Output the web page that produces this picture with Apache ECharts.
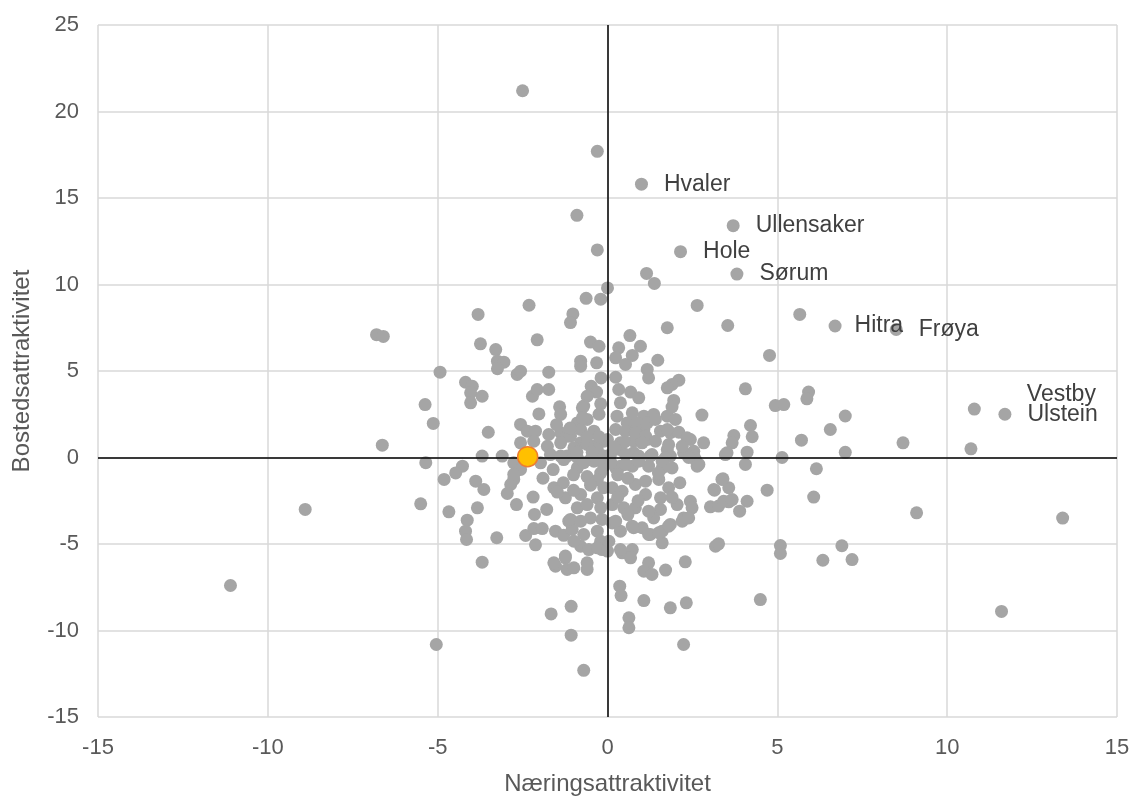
<!DOCTYPE html>
<html><head><meta charset="utf-8">
<script src="https://cdn.jsdelivr.net/npm/echarts@6/dist/echarts.min.js"></script>
<style>html,body{margin:0;padding:0;background:#fff}#c{width:1133px;height:798px}</style>
</head><body><div id="c"></div>
<script>
// Unlabelled municipalities: [Næringsattraktivitet, Bostedsattraktivitet]
const points = [
[-2.5,21.2],[-0.3,17.7],[-0.9,14.0],[-0.3,12.0],[1.15,10.64],[1.38,10.06],[0.0,9.8],[-0.63,9.2],[-0.2,9.15],
[-2.31,8.8],[-3.81,8.27],[-1.02,8.3],[-1.09,7.8],[2.64,8.79],[1.76,7.5],[3.54,7.63],[5.66,8.27],[-6.8,7.1],[-6.6,7.0],
[-2.07,6.8],[-3.74,6.57],[-0.5,6.67],[-0.25,6.43],[-3.29,6.24],[0.66,7.05],[0.97,6.43],[0.33,6.34],[0.73,5.9],[0.24,5.76],
[0.53,5.38],[1.48,5.62],[4.77,5.9],[-3.24,5.57],[-3.05,5.51],[-3.24,5.13],[-0.79,5.57],[-0.79,5.28],[-0.32,5.47],
[-4.93,4.93],[-2.66,4.8],[-2.56,4.99],[-1.73,4.93],[-0.19,4.6],[1.17,5.09],[1.21,4.6],[0.24,4.64],
[-4.18,4.35],[-3.98,4.12],[-4.03,3.74],[-3.69,3.54],[-2.21,3.54],[-2.07,3.93],[-1.73,3.93],[-0.48,4.12],[-0.32,3.78],
[-0.6,3.54],[-0.2,3.1],[-5.37,3.06],[-4.03,3.16],[-1.41,2.93],[-1.38,2.49],[-0.7,2.97],[-2.02,2.52],[-5.13,1.97],
[-0.89,2.0],[-0.79,1.62],[-0.6,2.2],[-0.4,1.52],[-2.56,1.91],[-2.36,1.52],[-2.12,1.52],[-3.51,1.46],[-1.73,1.33],
[-1.38,1.43],[-1.19,1.23],[-6.63,0.71],[-2.56,0.85],[-2.17,0.94],[-1.77,0.65],[-1.38,0.85],[-0.79,0.85],[-0.4,0.65],
[-0.11,0.94],[-3.69,0.08],[-3.1,0.08],[-1.68,0.17],[-1.19,0.08],[-0.74,2.87],[-0.74,2.29],[-1.09,1.23],[-0.3,0.46],
[-0.99,0.56],[-0.6,0.75],[-0.89,0.0],[-0.5,-0.12],[-0.11,0.08],[-2.76,-0.31],[-1.97,-0.31],[-1.29,-0.12],
[2.1,4.47],[1.9,4.22],[1.76,4.03],[4.06,3.97],[0.33,3.93],[0.68,3.78],[0.92,3.45],[0.38,3.16],[1.95,3.3],[1.9,2.92],
[1.76,2.39],[2.0,2.2],[2.78,2.45],[5.92,3.78],[5.87,3.39],[4.94,3.0],[5.19,3.06],[4.21,1.85],[4.26,1.2],[3.72,1.27],
[3.67,0.85],[3.52,0.27],[4.11,0.31],[5.71,1.0],[6.56,1.62],[5.14,0.0],[0.28,2.39],[0.73,2.58],[1.07,2.39],[1.36,2.49],
[0.24,1.62],[0.68,1.81],[1.07,1.62],[1.56,1.52],[1.85,1.43],[2.1,1.46],[2.44,1.04],[2.83,0.85],[0.0,1.04],[0.77,0.94],
[1.17,1.04],[0.38,0.46],[0.77,0.27],[1.76,0.46],[2.24,0.27],[2.54,0.36],[0.09,0.17],[1.26,0.08],[1.85,0.08],
[0.58,2.0],[0.87,2.0],[1.17,2.0],[1.41,2.2],[0.53,1.52],[0.82,1.43],[1.12,1.23],[1.76,1.62],[2.34,1.14],[0.38,0.85],
[1.02,0.85],[1.41,0.94],[1.8,0.75],[2.2,0.65],[0.53,0.17],[0.92,0.08],[1.31,0.17],[1.71,0.0],[2.59,-0.12],[3.47,0.17],
[0.38,-0.5],[0.73,-0.5],[1.21,-0.5],[1.61,-0.6],
[-5.35,-0.3],[-4.27,-0.5],[-4.47,-0.89],[-4.81,-1.27],[-3.88,-1.37],[-3.64,-1.85],[-2.76,-1.27],[-2.85,-1.56],
[-2.95,-2.08],[-2.56,-0.69],[-5.5,-2.68],[-4.67,-3.14],[-3.83,-2.91],[-2.68,-2.72],[-2.19,-2.29],[-2.15,-3.29],
[-1.79,-3.0],[-1.58,-1.75],[-1.3,-1.46],[-1.24,-2.33],[-1.48,-2.0],[-4.13,-3.62],[-4.18,-4.26],[-4.15,-4.74],
[-3.26,-4.64],[-2.41,-4.51],[-2.17,-4.11],[-1.92,-4.11],[-2.12,-5.05],[-1.53,-4.26],[-1.29,-4.5],[-1.04,-4.16],
[-1.14,-3.68],[-3.69,-6.05],[-1.53,-6.28],[-1.24,-5.8],[-1.19,-6.47],[-0.99,-6.38],[-0.6,-6.47],[-0.79,-5.13],
[-0.55,-5.32],[-0.16,-5.32],[-1.66,-9.04],[-1.07,-8.6],[-1.07,-10.27],[-5.04,-10.81],[-0.7,-12.3],[-1.38,0.08],
[-0.89,-0.6],[-0.4,-0.21],[-0.11,-0.5],[-2.76,-0.98],[-0.79,-2.14],[-0.89,-2.91],[-0.6,-2.72],[-0.3,-2.33],
[-0.11,-1.75],[-1.09,-3.58],[-0.79,-3.68],[-0.5,-3.49],[-0.16,-3.58],[-0.3,-4.26],[-0.7,-4.45],[-0.99,-4.84],
[-0.2,-4.84],[-0.3,-5.22],[0.0,-5.41],[-1.24,-5.7],[-1.58,-6.09],[-0.6,-6.09],
[-0.7,-0.3],[-0.2,-0.9],[-0.6,-1.1],[-1.0,-1.0],[-0.3,-1.3],[-1.0,-1.9],[-0.5,-1.6],[-0.2,-2.9],[-0.45,0.3],
[-0.9,0.3],[-1.6,-0.7],[-1.9,-1.2],[-0.1,-0.2],[-0.25,1.2],[-0.6,1.2],[-1.5,1.9],[-1.1,1.7],[-0.25,2.5],
[6.15,-0.65],[6.07,-2.29],[4.7,-1.89],[3.4,-1.23],[3.57,-1.75],[3.15,-1.89],[3.03,-2.85],[3.27,-2.81],[3.57,-2.56],
[3.89,-3.1],[4.11,-2.53],[4.06,-0.4],[2.54,0.08],[2.64,-0.5],[2.13,-1.46],[2.05,-2.72],[2.44,-2.53],[2.24,-3.49],
[2.49,-2.91],[1.56,-3.0],[1.36,-3.49],[1.85,-3.87],[1.61,-4.26],[1.26,-4.45],[0.77,-4.06],[1.02,-4.06],[0.38,-4.26],
[0.14,-3.78],[1.61,-4.93],[3.18,-5.13],[3.27,-4.99],[5.09,-5.09],[5.09,-5.55],[6.34,-5.94],[2.29,-6.03],[0.43,-5.51],
[0.73,-5.32],[0.68,-5.8],[1.21,-6.09],[1.07,-6.57],[1.31,-6.76],[1.71,-6.51],[0.36,-7.44],[0.4,-7.98],[1.07,-8.27],
[1.85,-8.69],[2.32,-8.4],[4.5,-8.21],[0.63,-9.27],[0.63,-9.84],[2.24,-10.81],[0.24,-0.6],[0.53,-0.4],[0.92,-0.21],
[1.61,-0.21],[1.9,-0.6],[2.39,0.0],[2.69,-0.4],[0.14,-1.75],[0.43,-1.95],[0.82,-1.56],[1.12,-1.37],[1.51,-1.27],
[1.8,-1.75],[1.12,-2.14],[1.56,-2.33],[0.14,-2.72],[0.48,-2.91],[0.82,-2.91],[1.21,-3.1],[0.24,-3.68],[0.73,-3.97],
[1.8,-3.97],[2.2,-3.68],[2.39,-3.49],[1.21,-4.45],[1.51,-4.35],[0.04,-4.84],[0.38,-5.32],[3.13,-1.85],[3.37,-1.27],
[3.42,-2.53],[3.67,-2.43],[0.3,-1.0],[0.6,-1.2],[0.1,-0.3],[0.5,0.9],[0.2,0.6],[1.5,-0.9],[0.9,-2.5],[0.3,-2.3],
[1.9,-2.3],[0.6,-3.3],
[7.0,2.4],[7.0,0.3],[8.7,0.85],[10.7,0.5],[9.1,-3.2],[13.4,-3.5],[11.6,-8.9],[6.9,-5.1],[7.2,-5.9],
[-11.1,-7.4],[-8.9,-3.0]
];
// Labelled municipalities
const labelNames = ["Hvaler","Ullensaker","Hole","Sørum","Hitra","Frøya","Vestby","Ulstein"];
const labelX = [1.0, 3.7, 2.15, 3.81, 6.7, 8.5, 10.8, 11.7];
const labelY = [15.8, 13.4, 11.9, 10.6, 7.6, 7.4, 2.8, 2.5];
// Highlighted municipality
const highlight = [-2.35, 0.05];
// Axis ticks
const xTicks = [-15,-10,-5,0,5,10,15];
const yTicks = [-15,-10,-5,0,5,10,15,20,25];

const labelledData = labelNames.map((n,i)=>{
  const item = {value:[labelX[i], labelY[i], n]};
  if (n === "Vestby") item.label = {offset:[30,-14]};
  if (n === "Hitra") item.label = {distance:13};
  return item;
});

const txt = '#595959';
const chart = echarts.init(document.getElementById('c'));
chart.setOption({
  animation:false,
  textStyle:{fontFamily:'Liberation Sans, Arial, sans-serif'},
  grid:{left:98,right:16,top:25,bottom:81,outerBoundsMode:'none',containLabel:false},
  xAxis:{type:'value',min:xTicks[0],max:xTicks[xTicks.length-1],interval:5,
    name:'Næringsattraktivitet',nameLocation:'middle',nameGap:55,
    nameTextStyle:{fontSize:24,color:txt},
    axisLine:{show:false},axisTick:{show:false},
    axisLabel:{fontSize:22,color:txt,margin:20},
    splitLine:{show:true,lineStyle:{color:'#d9d9d9',width:1.5}}},
  yAxis:{type:'value',min:yTicks[0],max:yTicks[yTicks.length-1],interval:5,
    name:'Bostedsattraktivitet',nameLocation:'middle',nameGap:64,
    nameTextStyle:{fontSize:24,color:txt},
    axisLine:{show:false},axisTick:{show:false},
    axisLabel:{fontSize:22,color:txt,margin:19},
    splitLine:{show:true,lineStyle:{color:'#d9d9d9',width:1.5}}},
  series:[
    {type:'scatter',data:points,symbolSize:13,itemStyle:{color:'#a5a5a5',opacity:1},z:2,
     markLine:{silent:true,symbol:'none',label:{show:false},animation:false,
       lineStyle:{color:'#000',width:1.5,type:'solid'},
       data:[{xAxis:0},{yAxis:0}]}},
    {type:'scatter',data:labelledData,symbolSize:13,itemStyle:{color:'#a5a5a5',opacity:1},z:3,
     label:{show:true,position:'right',distance:16,fontSize:23,color:'#404040',
       formatter:p=>p.value[2]}},
    {type:'scatter',data:[highlight],symbolSize:20,z:5,
     itemStyle:{color:'#ffc000',borderColor:'#ed7d31',borderWidth:1.5,opacity:1}}
  ]
});
</script></body></html>
